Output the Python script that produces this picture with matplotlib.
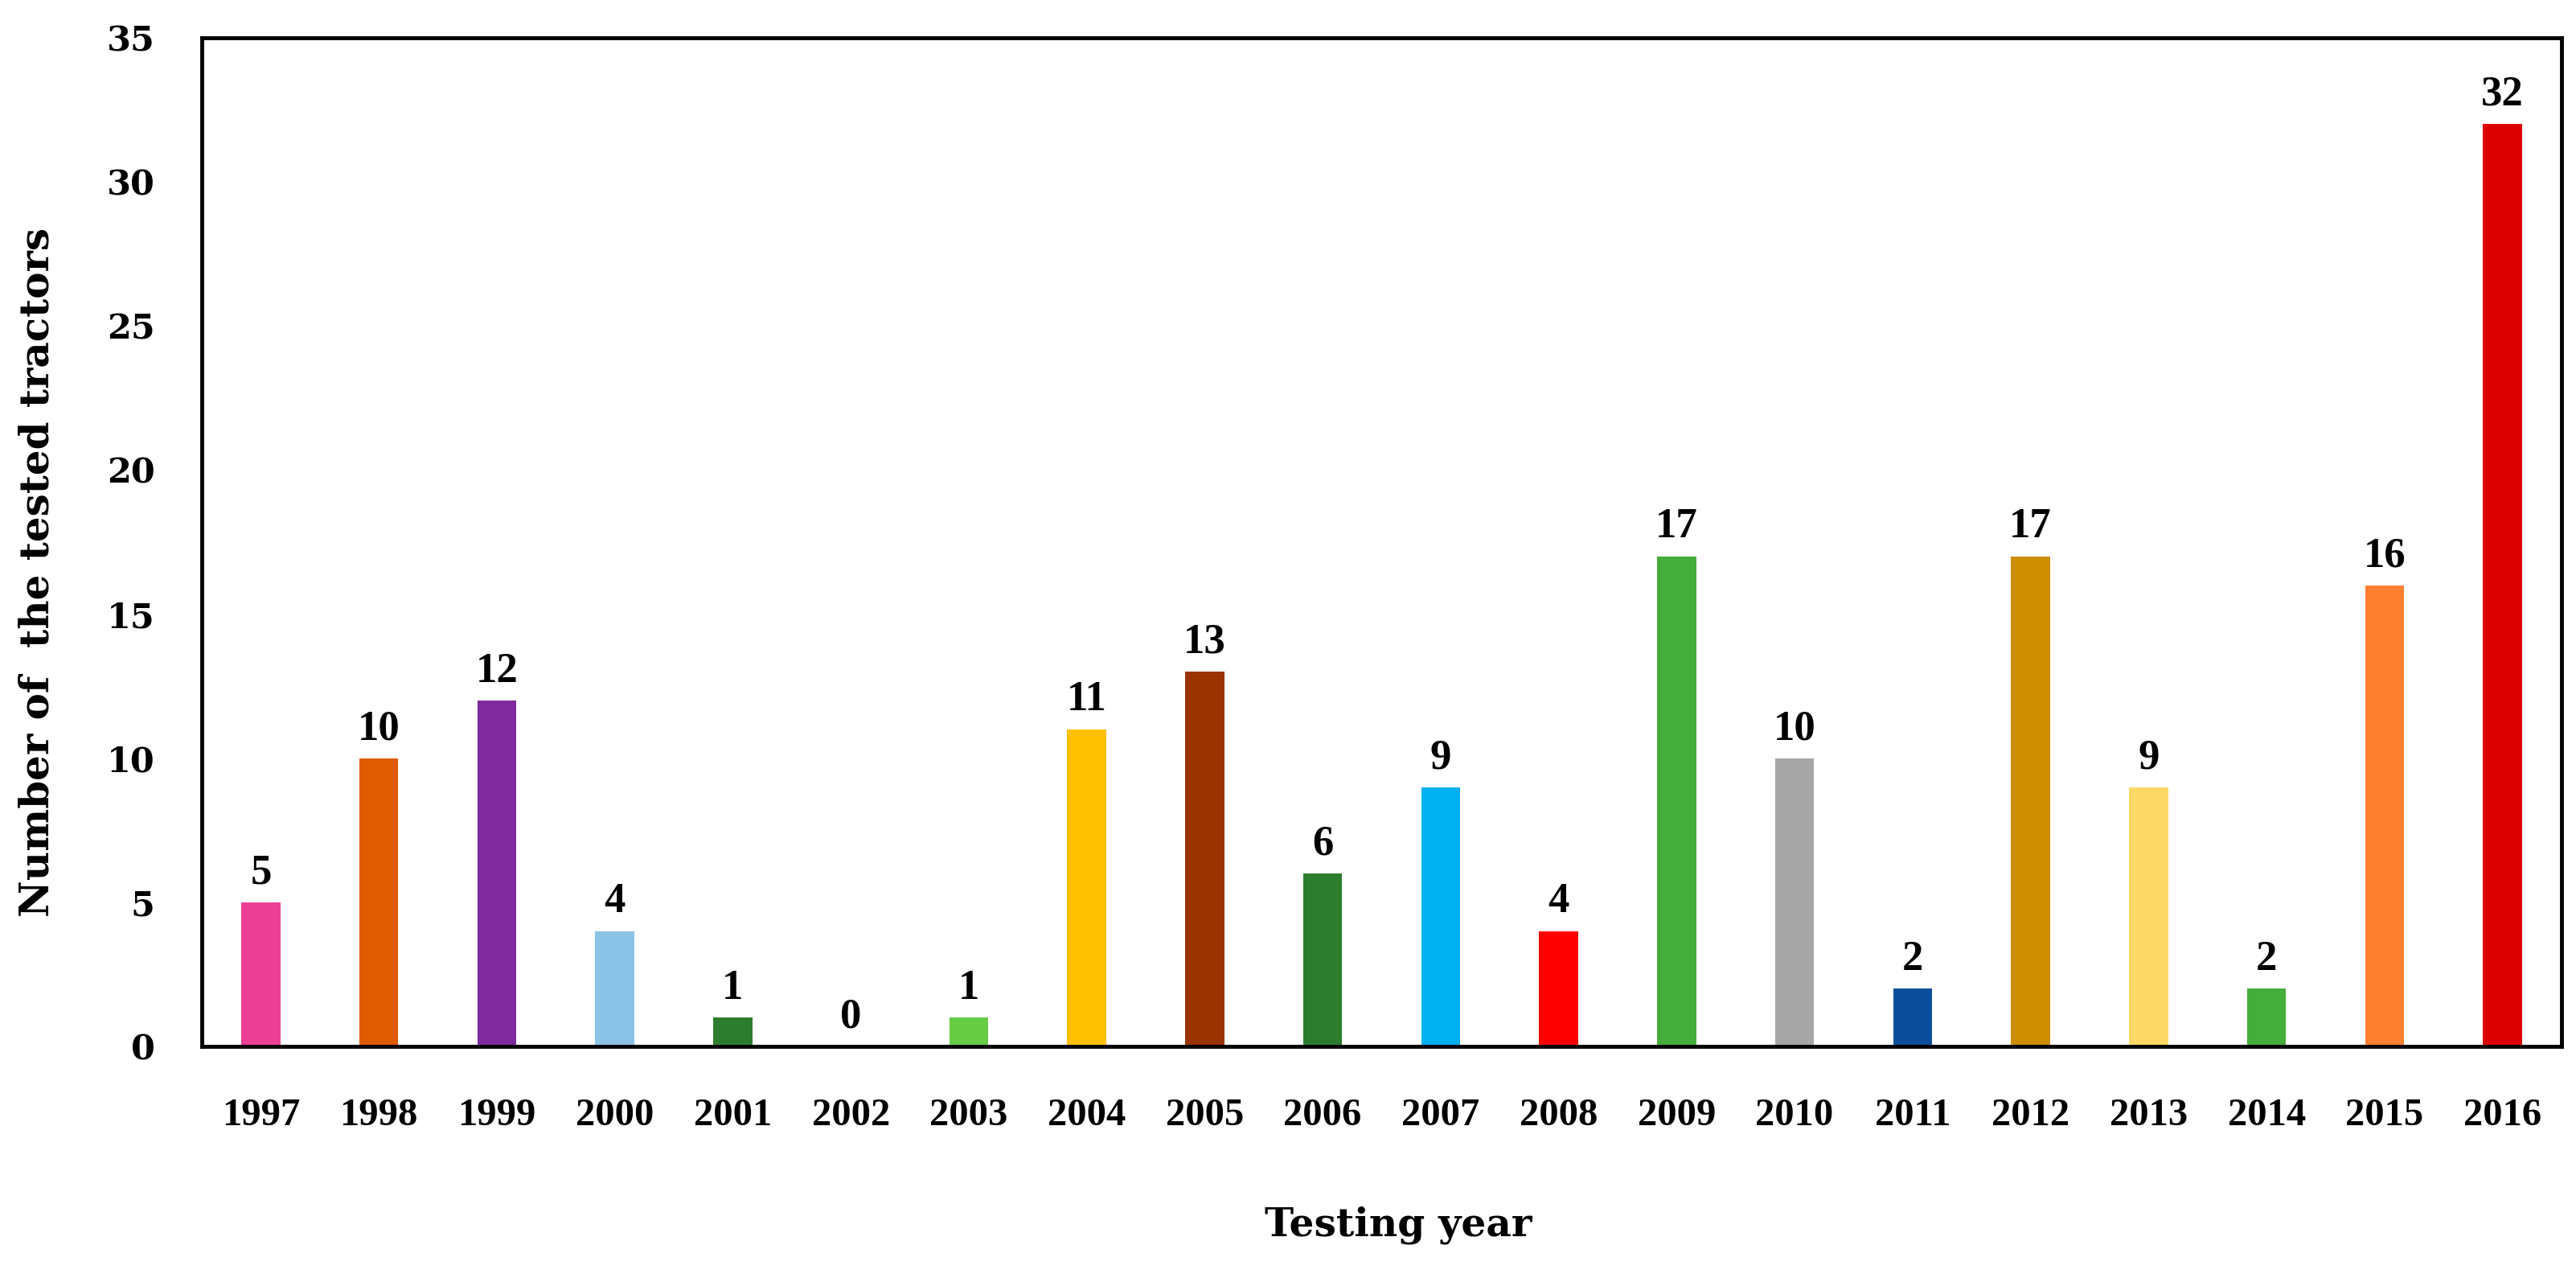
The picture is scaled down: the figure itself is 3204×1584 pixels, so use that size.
import matplotlib
matplotlib.use('Agg')
from matplotlib import pyplot as plt

# data
years = ['1997', '1998', '1999', '2000', '2001', '2002', '2003', '2004', '2005', '2006',
         '2007', '2008', '2009', '2010', '2011', '2012', '2013', '2014', '2015', '2016']
tractors = [5, 10, 12, 4, 1, 0, 1, 11, 13, 6, 9, 4, 17, 10, 2, 17, 9, 2, 16, 32]
bar_colors = ['#EE3F96', '#E05A00', '#7F2A9F', '#8BC3E6', '#2E7D2E', '#66CC44', '#66CC44',
              '#FFC000', '#993300', '#2E7D2E', '#00B0F0', '#FF0000', '#45AD3A', '#A6A6A6',
              '#0B4F9C', '#CC8E00', '#FFD966', '#45AD3A', '#FF8030', '#DD0000']

fig = plt.figure(figsize=(32.05, 15.84), dpi=100)
ax = fig.add_axes([251 / 3205, 1 - 1301 / 1584, (3186 - 251) / 3205, (1301 - 47) / 1584])

x = list(range(len(years)))
ax.bar(x, tractors, width=0.33, color=bar_colors)

# value labels on top of bars
for xi, v in zip(x, tractors):
    ax.annotate(str(v), (xi, v), xytext=(0, 9), textcoords='offset points',
                ha='center', va='bottom', fontsize=38, fontweight='bold',
                family='Liberation Serif')

ax.set_xlim(-0.5, len(years) - 0.5)
ax.set_ylim(0, 35)
ax.set_xticks(x)
ax.set_xticklabels(years, fontsize=35, fontweight='bold', family='Liberation Serif')
ax.set_yticks(range(0, 36, 5))
ax.set_yticklabels([str(t) for t in range(0, 36, 5)], fontsize=31, fontweight='bold',
                   family='DejaVu Serif')
ax.tick_params(axis='x', length=0, pad=46)
ax.tick_params(axis='y', length=0, pad=42)

for s in ax.spines.values():
    s.set_linewidth(3.5)
    s.set_color('black')

ax.set_ylabel('Number of  the tested tractors', fontsize=36, fontweight='bold',
              family='DejaVu Serif')
ax.yaxis.set_label_coords(-0.061, 0.47)
ax.set_xlabel('Testing year', fontsize=35, fontweight='bold', family='DejaVu Serif')
ax.xaxis.set_label_coords(0.507, -0.158)

fig.savefig('out.png', dpi=100)
